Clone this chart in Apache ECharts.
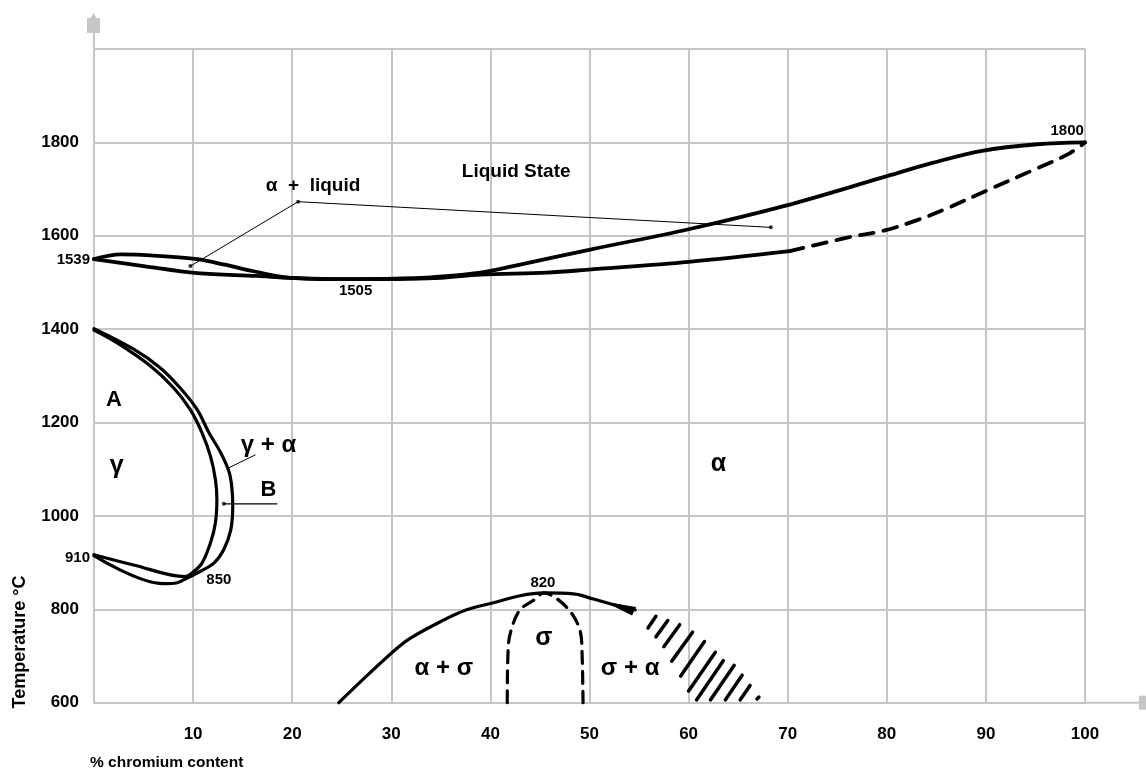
<!DOCTYPE html>
<html><head><meta charset="utf-8">
<script src="https://cdn.jsdelivr.net/npm/echarts@6/dist/echarts.min.js"></script>
<style>html,body{margin:0;padding:0;background:#fff}#c{width:1146px;height:773px}</style>
</head><body><div id="c"></div>
<script>
// ---- axes ----
const xRange = [0, 100];      // % chromium
const xInterval = 10;
const yRange = [600, 2000];   // temperature °C
const yInterval = 200;
const xAxisName = '% chromium content';
const yAxisName = 'Temperature °C';

// ---- phase boundaries [%Cr, °C] ----
const liquidus = [[0,1550],[2.7,1560],[6.4,1557],[10.4,1550],[13.2,1538],[16.1,1524],[19.8,1510],[25,1507],[30.9,1508],[34,1511],[39,1521],[42.3,1535],[50.2,1571],[60,1614],[69.7,1664],[79.6,1725],[84.6,1756],[89.6,1782],[95.2,1796],[100,1800]];
const solidus = [[0,1550],[5,1535],[10.4,1520],[16.4,1514],[19.8,1510],[25,1507],[30.9,1508],[35,1510],[39,1517],[45.7,1521],[50.2,1528],[60,1544],[70.2,1567]];
const solidusDashed = [[70.2,1567],[76,1596],[79.7,1611],[83,1633],[86,1658],[90,1696],[95,1743],[98.4,1776],[100,1800]];
const gammaOuter = [[0,1401],[4.0,1357],[6.7,1317],[8.7,1274],[10.4,1228],[11.6,1178],[12.8,1135],[13.6,1096],[13.9,1063],[14.0,1020],[13.8,970],[13.1,928],[12.1,899],[10.7,881],[9.4,867],[8.4,857],[7.0,855],[0,915]];
const gammaInner = [[0,1398],[2.3,1371],[5.7,1321],[8.05,1274],[9.7,1228],[10.9,1178],[11.75,1128],[12.25,1078],[12.4,1035],[12.25,985],[11.75,942],[10.9,899],[9.9,878],[9.2,870],[4.0,895],[0,917]];
const sigmaSolvus = [[24.7,600],[27.6,659],[30.6,717],[31.9,738],[35,774],[37.6,799],[40.3,814],[43,829],[45.4,835],[48.4,833],[50.4,822],[52.4,810],[54.6,799]];
const sigmaWedge = [[51.5,816],[54.7,805],[54.3,787]];
const sigmaDome = [[41.7,600],[41.8,720],[42.2,763],[43,799],[44.4,820],[45.4,835],[47.05,817],[48.4,785],[49.1,749],[49.25,706],[49.35,600]];
// hatch strokes [x1, y1, x2, y2]
const hatch = [[55.9,760,56.7,785],[56.7,741,57.9,776],[57.5,720,59.1,767],[58.3,689,60.4,751],[59.2,657,61.6,731],[60.0,625,62.7,708],[60.8,606,63.5,690],[62.2,606,64.6,680],[63.7,606,65.4,659],[65.2,606,66.2,637],[66.9,608,67.1,612]];

// ---- leader lines ----
const leaderLiquid = [[9.73,1535],[20.6,1673],[68.3,1618]];
const leaderGammaAlpha = [[13.6,1103],[16.3,1131]];
const leaderB = [[13.1,1026],[18.5,1026]];
const leaderDots = [[9.73,1535],[20.6,1673],[68.3,1618],[13.1,1026]];

// ---- text labels [text, %Cr, °C, kind] ----
const labels = [
  ['α  +  liquid', 22.1, 1707, 'region'],
  ['Liquid State', 42.6, 1738, 'region'],
  ['1800', 98.2, 1825, 'value'],
  ['1505', 26.4, 1482, 'value'],
  ['A', 2.0, 1249, 'big'],
  ['γ', 2.3, 1106, 'greek'],
  ['γ + α', 17.6, 1151, 'mid'],
  ['B', 17.6, 1056, 'big'],
  ['850', 12.6, 863, 'value'],
  ['α', 63.0, 1110, 'greek'],
  ['820', 45.3, 857, 'value'],
  ['σ', 45.4, 738, 'greek'],
  ['α + σ', 35.3, 674, 'mid'],
  ['σ + α', 54.1, 674, 'mid']
];
const edgeLabels = [['1539', 0, 1549], ['910', 0, 910]];

// ---- styling ----
const FONT = '"Liberation Sans", Arial, sans-serif';
const kindSize = { region: 19, value: 15, big: 22, greek: 25, mid: 24 };
const GRAY = '#c6c6c6';

const chart = echarts.init(document.getElementById('c'), null, { renderer: 'canvas' });

function lineSeries(data, width, type) {
  return {
    type: 'line', data: data, showSymbol: false, smooth: 0.35, clip: false,
    lineStyle: { color: '#000', width: width, type: type || 'solid', cap: 'round', join: 'round' },
    silent: true, z: 3
  };
}

function textSeries(list, align, dx, sizeOf) {
  return {
    type: 'custom', silent: true, z: 6, clip: false,
    data: list.map(l => [l[1], l[2]]),
    renderItem: function (params, api) {
      const p = api.coord([api.value(0), api.value(1)]);
      const l = list[params.dataIndex];
      return {
        type: 'text', x: p[0] + dx, y: p[1],
        style: { text: l[0], font: 'bold ' + sizeOf(l) + 'px ' + FONT, fill: '#000',
                 align: align, verticalAlign: 'middle' }
      };
    }
  };
}

chart.setOption({
  animation: false,
  backgroundColor: '#fff',
  grid: { left: 94, right: 61, top: 49, bottom: 70.3, containLabel: false },
  xAxis: {
    type: 'value', min: xRange[0], max: xRange[1], interval: xInterval,
    axisLine: { show: true, lineStyle: { color: GRAY, width: 2 } },
    axisTick: { show: false },
    splitLine: { show: true, lineStyle: { color: GRAY, width: 2 } },
    axisLabel: { margin: 23, fontSize: 17, fontWeight: 'bold', fontFamily: FONT, color: '#000',
                 formatter: v => (v === xRange[0] ? '' : String(v)) }
  },
  yAxis: {
    type: 'value', min: yRange[0], max: yRange[1], interval: yInterval,
    axisLine: { show: true, lineStyle: { color: GRAY, width: 2 } },
    axisTick: { show: false },
    splitLine: { show: true, lineStyle: { color: GRAY, width: 2 } },
    axisLabel: { margin: 15, fontSize: 17, fontWeight: 'bold', fontFamily: FONT, color: '#000',
                 formatter: v => (v === yRange[1] ? '' : String(v)) }
  },
  series: [
    lineSeries(liquidus, 3.8),
    lineSeries(solidus, 3.8),
    lineSeries(solidusDashed, 3.8, [14, 10]),
    lineSeries(gammaOuter, 3.2),
    lineSeries(gammaInner, 3.2),
    lineSeries(sigmaSolvus, 3.2),
    lineSeries(sigmaDome, 3.2, [12, 8]),
    {
      type: 'custom', data: sigmaWedge, silent: true, z: 3, clip: false,
      renderItem: function (params, api) {
        if (params.dataIndex !== 0) return null;
        const pts = sigmaWedge.map(p => api.coord(p));
        return { type: 'polygon', shape: { points: pts }, style: { fill: '#000' } };
      }
    },
    {
      type: 'custom', data: hatch, silent: true, z: 3, clip: false,
      encode: { x: [0, 2], y: [1, 3] },
      renderItem: function (params, api) {
        const a = api.coord([api.value(0), api.value(1)]);
        const b = api.coord([api.value(2), api.value(3)]);
        return { type: 'line', shape: { x1: a[0], y1: a[1], x2: b[0], y2: b[1] },
                 style: { stroke: '#000', lineWidth: 3.5, lineCap: 'round' } };
      }
    },
    { type: 'line', data: leaderLiquid, showSymbol: false, lineStyle: { color: '#000', width: 1 }, silent: true, z: 2 },
    { type: 'line', data: leaderGammaAlpha, showSymbol: false, lineStyle: { color: '#000', width: 1 }, silent: true, z: 2 },
    { type: 'line', data: leaderB, showSymbol: false, lineStyle: { color: '#000', width: 1.2 }, silent: true, z: 2 },
    { type: 'scatter', data: leaderDots, symbolSize: 4, itemStyle: { color: '#000' }, silent: true, z: 4 },
    textSeries(labels, 'center', 0, l => kindSize[l[3]]),
    textSeries(edgeLabels, 'right', -4, () => 15)
  ]
});

// axis extensions, arrows and axis names (positioned from the axes)
const o = chart.convertToPixel({ gridIndex: 0 }, [xRange[0], yRange[0]]);
const t = chart.convertToPixel({ gridIndex: 0 }, [xRange[0], yRange[1]]);
const r = chart.convertToPixel({ gridIndex: 0 }, [xRange[1], yRange[0]]);
chart.setOption({
  graphic: [
    { type: 'line', shape: { x1: o[0], y1: t[1], x2: o[0], y2: t[1] - 16 }, style: { stroke: GRAY, lineWidth: 2 } },
    { type: 'rect', shape: { x: o[0] - 7, y: t[1] - 31, width: 13, height: 15 }, style: { fill: GRAY } },
    { type: 'polygon', shape: { points: [[o[0] - 4, t[1] - 30], [o[0] + 3, t[1] - 30], [o[0] - 0.5, t[1] - 36]] }, style: { fill: GRAY } },
    { type: 'line', shape: { x1: r[0], y1: o[1], x2: r[0] + 55, y2: o[1] }, style: { stroke: GRAY, lineWidth: 2 } },
    { type: 'rect', shape: { x: r[0] + 54, y: o[1] - 7, width: 7, height: 14 }, style: { fill: GRAY } },
    { type: 'text', x: 90, y: 763, style: { text: xAxisName, font: 'bold 15.5px ' + FONT, fill: '#000', textAlign: 'left', textVerticalAlign: 'middle' } },
    { type: 'text', x: 20, y: 642, rotation: Math.PI / 2, style: { text: yAxisName, font: 'bold 18px ' + FONT, fill: '#000', textAlign: 'center', textVerticalAlign: 'middle' } }
  ]
});
</script></body></html>
